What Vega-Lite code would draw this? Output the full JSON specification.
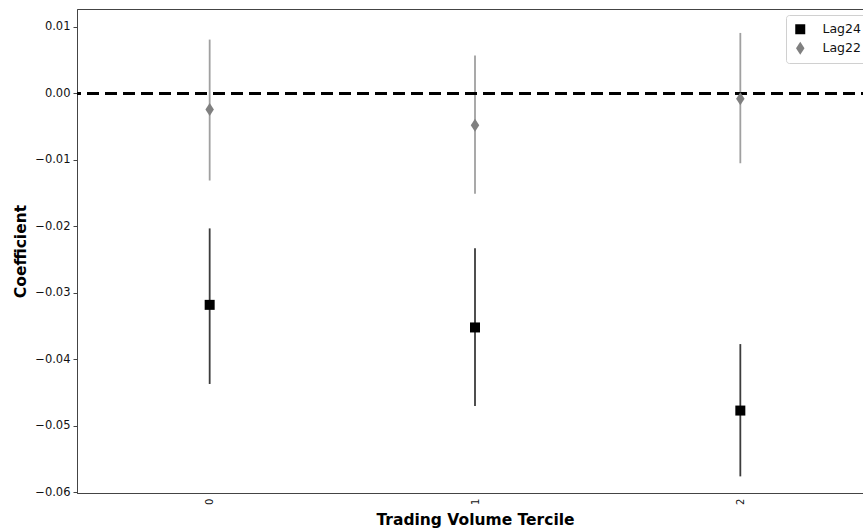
{
  "$schema": "https://vega.github.io/schema/vega-lite/v6.json",
  "autosize": {"type": "none"},
  "padding": {"left": 77, "top": 9, "right": 0, "bottom": 38},
  "width": 796,
  "height": 484,
  "background": "white",
  "config": {
    "font": "DejaVu Sans",
    "view": {"stroke": "#444", "strokeWidth": 1},
    "axis": {"labelFont": "DejaVu Sans", "titleFont": "DejaVu Sans", "labelColor": "#111", "titleColor": "#000", "domainColor": "#444", "tickColor": "#444", "grid": false},
    "legend": {"labelFont": "DejaVu Sans", "labelFontSize": 12.5, "labelColor": "#111"}
  },
  "data": {
    "values": [
      {"series": "Lag24", "tercile": "0", "coef": -0.0318, "lo": -0.0437, "hi": -0.0203},
      {"series": "Lag24", "tercile": "1", "coef": -0.0352, "lo": -0.0470, "hi": -0.0233},
      {"series": "Lag24", "tercile": "2", "coef": -0.0477, "lo": -0.0576, "hi": -0.0377},
      {"series": "Lag22", "tercile": "0", "coef": -0.0024, "lo": -0.0131, "hi": 0.0081},
      {"series": "Lag22", "tercile": "1", "coef": -0.0048, "lo": -0.0151, "hi": 0.0057},
      {"series": "Lag22", "tercile": "2", "coef": -0.0008, "lo": -0.0105, "hi": 0.0091}
    ]
  },
  "layer": [
    {
      "transform": [{"filter": "datum.series === 'Lag24'"}],
      "mark": {"type": "rule", "strokeWidth": 1.8, "color": "#3c3c3c"},
      "encoding": {
        "x": {
          "field": "tercile", "type": "nominal",
          "scale": {"type": "point", "padding": 0.5},
          "axis": {"title": "Trading Volume Tercile", "titleFontSize": 15.5, "titleFontWeight": "bold", "labelAngle": 270, "labelFontSize": 10, "ticks": false, "labelPadding": 5, "titlePadding": 8}
        },
        "y": {"field": "lo", "type": "quantitative"},
        "y2": {"field": "hi"}
      }
    },
    {
      "transform": [{"filter": "datum.series === 'Lag22'"}],
      "mark": {"type": "rule", "strokeWidth": 1.8, "color": "#a0a0a0"},
      "encoding": {
        "x": {"field": "tercile", "type": "nominal"},
        "y": {"field": "lo", "type": "quantitative"},
        "y2": {"field": "hi"}
      }
    },
    {
      "data": {"values": [{"ref": 0}]},
      "mark": {"type": "rule", "color": "black", "strokeWidth": 3, "strokeDash": [12, 6]},
      "encoding": {"y": {"field": "ref", "type": "quantitative"}}
    },
    {
      "mark": {"type": "point", "filled": true, "opacity": 1, "size": 100, "strokeWidth": 0},
      "encoding": {
        "x": {"field": "tercile", "type": "nominal"},
        "y": {
          "field": "coef", "type": "quantitative",
          "scale": {"domain": [-0.0601, 0.0127], "nice": false, "zero": false},
          "axis": {"title": "Coefficient", "titleFontSize": 15.5, "titleFontWeight": "bold", "labelFontSize": 11.5, "values": [-0.06, -0.05, -0.04, -0.03, -0.02, -0.01, 0, 0.01], "format": ".2f", "tickSize": 4, "labelPadding": 3, "titlePadding": 6}
        },
        "color": {
          "field": "series", "type": "nominal",
          "scale": {"domain": ["Lag24", "Lag22"], "range": ["black", "#808080"]},
          "legend": {"title": null, "orient": "none", "legendX": 709, "legendY": 6, "padding": 8, "fillColor": "white", "strokeColor": "#d0d0d0", "cornerRadius": 3, "symbolSize": 100, "labelOffset": 16, "rowPadding": 5, "symbolOpacity": 1, "symbolStrokeWidth": 0}
        },
        "shape": {
          "field": "series", "type": "nominal",
          "scale": {"domain": ["Lag24", "Lag22"], "range": ["square", "M0,-1.3L0.85,0L0,1.3L-0.85,0Z"]},
          "legend": {"title": null, "orient": "none", "legendX": 709, "legendY": 6, "padding": 8, "fillColor": "white", "strokeColor": "#d0d0d0", "cornerRadius": 3, "symbolSize": 100, "labelOffset": 16, "rowPadding": 5, "symbolOpacity": 1, "symbolStrokeWidth": 0}
        }
      }
    }
  ]
}
